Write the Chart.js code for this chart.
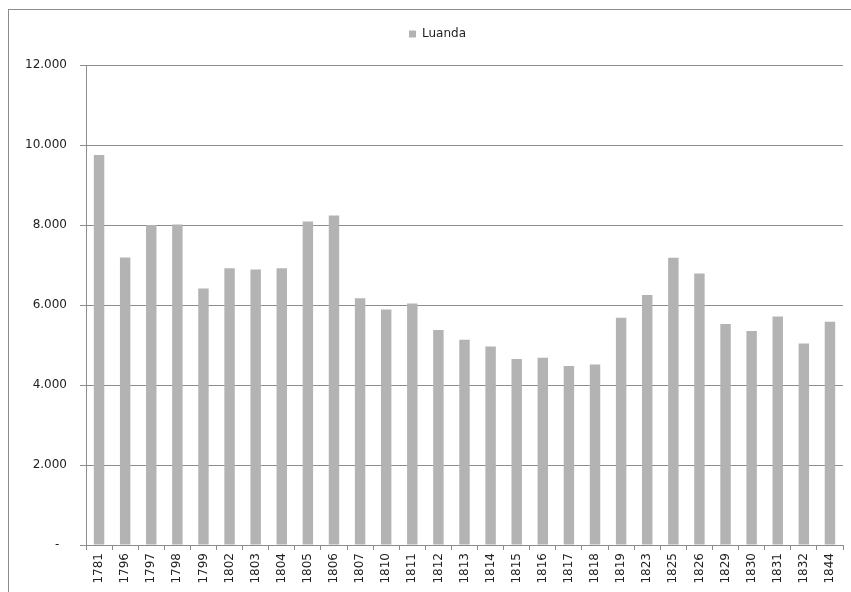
<!DOCTYPE html>
<html>
<head>
<meta charset="utf-8">
<script src="https://cdn.jsdelivr.net/npm/chart.js@4/dist/chart.umd.min.js"></script>
<style>
  html, body { margin: 0; padding: 0; background: #fff; }
  #wrap { position: relative; width: 851px; height: 592px; overflow: hidden; }
  #frame { position: absolute; left: 8px; top: 9px; right: -2px; bottom: -2px;
           border-left: 1px solid #8c8c8c; border-top: 1px solid #8c8c8c; }
  canvas { position: absolute; left: 0; top: 0; }
</style>
</head>
<body>
<div id="wrap">
  <div id="frame"></div>
  <canvas id="chart" width="851" height="592"></canvas>
</div>
<script>
// years and population of Luanda
const years = ['1781', '1796', '1797', '1798', '1799', '1802', '1803', '1804', '1805', '1806',
  '1807', '1810', '1811', '1812', '1813', '1814', '1815', '1816', '1817', '1818',
  '1819', '1823', '1825', '1826', '1829', '1830', '1831', '1832', '1844'];
const luanda = [9750, 7190, 8000, 8010, 6410, 6920, 6890, 6920, 8090, 8240,
  6170, 5890, 6040, 5375, 5130, 4960, 4650, 4680, 4475, 4510,
  5680, 6250, 7180, 6790, 5525, 5350, 5710, 5040, 5580];
const yTicks = [0, 2000, 4000, 6000, 8000, 10000, 12000];

const font = { family: 'DejaVu Sans', size: 12 };
const gray = '#8c8c8c';

function fmt(v) {
  if (v === 0) return '-  ';
  return v.toLocaleString('de-DE');
}

// legend a bit taller (more room under it) and nudged right, like the excel one
const legendTweak = {
  id: 'legendTweak',
  afterInit(chart) {
    const lg = chart.legend;
    const fit = lg.fit.bind(lg);
    lg.fit = function () { fit(); this.height += 15; };
  },
  afterLayout(chart) {
    chart.legend.left += 16;
    chart.legend.right += 16;
  }
};

new Chart(document.getElementById('chart'), {
  type: 'bar',
  data: {
    labels: years,
    datasets: [{
      label: 'Luanda',
      data: luanda,
      backgroundColor: '#b3b3b3',
      borderWidth: 0,
      categoryPercentage: 1,
      barPercentage: 0.4
    }]
  },
  options: {
    responsive: false,
    animation: false,
    layout: { padding: { top: 18, right: 8, left: 0, bottom: 0 } },
    plugins: {
      legend: {
        position: 'top',
        labels: {
          color: '#222',
          font: font,
          boxWidth: 7,
          boxHeight: 7,
          padding: 10
        }
      },
      tooltip: { enabled: false }
    },
    scales: {
      x: {
        afterFit: s => { s.height = 47; },
        grid: { drawOnChartArea: false, drawTicks: true, tickLength: 5, color: gray },
        border: { color: gray },
        ticks: { color: '#222', font: font, minRotation: 90, maxRotation: 90, autoSkip: false, padding: 3 }
      },
      y: {
        min: 0,
        max: 12000,
        afterFit: s => { s.width = 86; },
        afterBuildTicks: s => { s.ticks = yTicks.map(v => ({ value: v })); },
        grid: { color: gray, tickLength: 6 },
        border: { color: gray },
        ticks: { color: '#222', font: font, padding: 13, callback: v => fmt(v) }
      }
    }
  },
  plugins: [legendTweak]
});
</script>
</body>
</html>
